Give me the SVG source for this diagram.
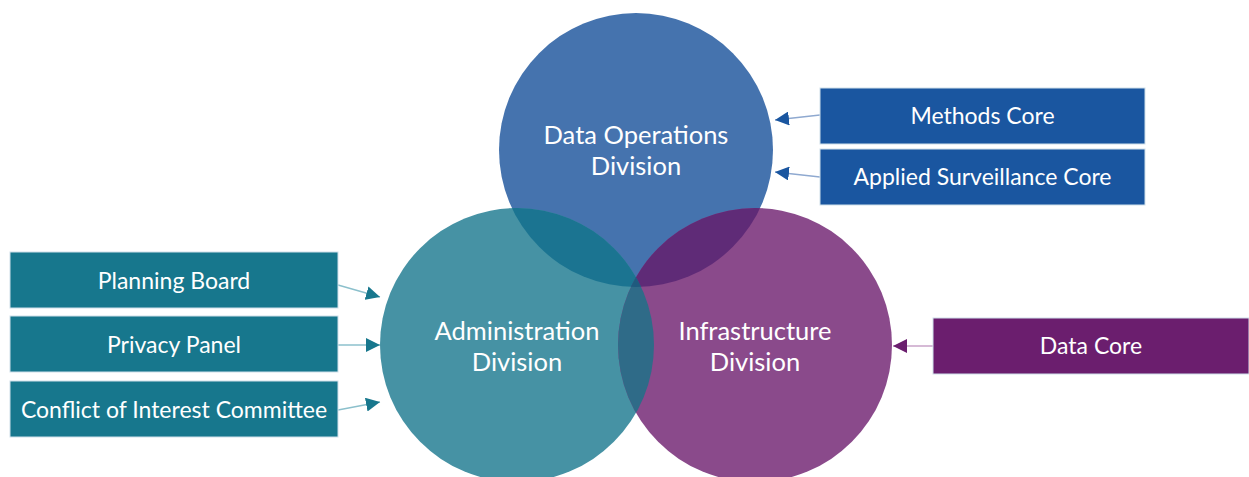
<svg xmlns="http://www.w3.org/2000/svg" width="1249" height="477" viewBox="0 0 1249 477">
<style>
.t{font-family:Lato,"Open Sans","Liberation Sans",sans-serif;fill:#fff;text-anchor:middle}
.c{font-size:25.5px}
.b{font-size:23px}
.box{stroke:#cfe0ea;stroke-width:1}
</style>
<defs>
<clipPath id="cD"><circle cx="636" cy="150" r="137"/></clipPath>
<clipPath id="cA"><circle cx="517" cy="345" r="137"/></clipPath>
<clipPath id="cI"><circle cx="755" cy="345" r="137"/></clipPath>
<marker id="mT" viewBox="0 0 10 10" refX="10" refY="5" markerWidth="14" markerHeight="14" markerUnits="userSpaceOnUse" orient="auto"><path d="M0,0L10,5L0,10z" fill="#17778D"/></marker>
<marker id="mB" viewBox="0 0 10 10" refX="10" refY="5" markerWidth="14" markerHeight="14" markerUnits="userSpaceOnUse" orient="auto"><path d="M0,0L10,5L0,10z" fill="#1a56a0"/></marker>
<marker id="mP" viewBox="0 0 10 10" refX="10" refY="5" markerWidth="14" markerHeight="14" markerUnits="userSpaceOnUse" orient="auto"><path d="M0,0L10,5L0,10z" fill="#6B1E6E"/></marker>
</defs>
<g id="circles">
<g id="data-operations"><circle cx="636" cy="150" r="137" fill="#4573AE"/></g>
<g id="administration"><circle cx="517" cy="345" r="137" fill="#4692A4"/></g>
<g id="infrastructure"><circle cx="755" cy="345" r="137" fill="#8A4A8B"/></g>
<g clip-path="url(#cD)"><circle cx="517" cy="345" r="137" fill="#1B7491"/><circle cx="755" cy="345" r="137" fill="#5F2B77"/></g>
<g clip-path="url(#cA)"><circle cx="755" cy="345" r="137" fill="#2F6B88"/></g>
<g clip-path="url(#cD)"><g clip-path="url(#cA)"><circle cx="755" cy="345" r="137" fill="#1F5A7E"/></g></g>
<text class="t c" x="636" y="144">Data Operations</text>
<text class="t c" x="636" y="175">Division</text>
<text class="t c" x="517" y="340">Administration</text>
<text class="t c" x="517" y="371">Division</text>
<text class="t c" x="755" y="340">Infrastructure</text>
<text class="t c" x="755" y="371">Division</text>
</g>
<g id="connectors" fill="none" stroke-width="1.5">
<line x1="338" y1="285" x2="380" y2="297" stroke="#8cc0cc" marker-end="url(#mT)"/>
<line x1="338" y1="345" x2="380" y2="345" stroke="#8cc0cc" marker-end="url(#mT)"/>
<line x1="338" y1="410" x2="380" y2="402" stroke="#8cc0cc" marker-end="url(#mT)"/>
<line x1="820" y1="115" x2="775" y2="120" stroke="#8fa9d0" marker-end="url(#mB)"/>
<line x1="820" y1="177" x2="775" y2="172" stroke="#8fa9d0" marker-end="url(#mB)"/>
<line x1="933" y1="346" x2="893" y2="346" stroke="#c9a3c9" marker-end="url(#mP)"/>
</g>
<g id="methods-core"><rect class="box" x="820" y="88" width="325" height="56" fill="#1a56a0"/><text class="t b" x="982.5" y="124">Methods Core</text></g>
<g id="applied-surveillance-core"><rect class="box" x="820" y="149" width="325" height="56" fill="#1a56a0"/><text class="t b" x="982.5" y="185">Applied Surveillance Core</text></g>
<g id="planning-board"><rect class="box" x="10" y="252" width="328" height="56" fill="#17778D"/><text class="t b" x="174" y="289">Planning Board</text></g>
<g id="privacy-panel"><rect class="box" x="10" y="316" width="328" height="56" fill="#17778D"/><text class="t b" x="174" y="353">Privacy Panel</text></g>
<g id="conflict-of-interest-committee"><rect class="box" x="10" y="381" width="328" height="56" fill="#17778D"/><text class="t b" x="174" y="418">Conflict of Interest Committee</text></g>
<g id="data-core"><rect class="box" x="933" y="318" width="316" height="56" fill="#6B1E6E"/><text class="t b" x="1091" y="354">Data Core</text></g>
</svg>
